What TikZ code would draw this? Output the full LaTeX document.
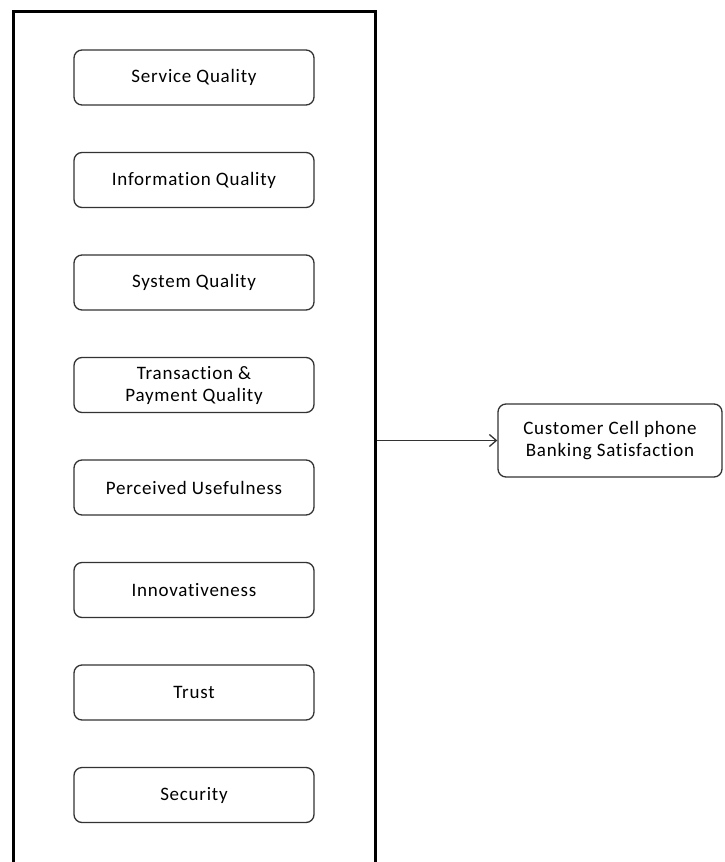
\documentclass[tikz,border=0pt]{standalone}
\usepackage{fontspec}
\setmainfont[Ligatures=NoCommon,LetterSpace=4]{Carlito}
\usetikzlibrary{arrows.meta}

\begin{document}
\begin{tikzpicture}[x=1pt,y=-1pt]
\useasboundingbox (0,0) rectangle (724,862);
\tikzset{factor/.style={draw=black!80,line width=1.3pt,rounded corners=8pt,minimum width=240pt,minimum height=55pt,align=center,font=\fontsize{19}{22}\selectfont,inner sep=0pt}}
\node[draw=black,line width=3pt,minimum width=362pt,minimum height=880pt,inner sep=0pt] (panel) at (194.000,451.000) {};
\node[factor] (sq) at (194.000,77.500) {Service Quality};
\node[factor] (iq) at (194.000,180.000) {Information Quality};
\node[factor] (syq) at (194.000,282.500) {System Quality};
\node[factor] (tpq) at (194.000,385.000) {Transaction \&\\Payment Quality};
\node[factor] (pu) at (194.000,487.500) {Perceived Usefulness};
\node[factor] (inn) at (194.000,590.000) {Innovativeness};
\node[factor] (tr) at (194.000,692.500) {Trust};
\node[factor] (sec) at (194.000,795.000) {Security};
\node[factor,minimum width=224pt,minimum height=73pt] (cbs) at (610.000,440.500) {Customer Cell phone\\Banking Satisfaction};
\draw[line width=1.3pt,black!80,-{Straight Barb[length=7pt,width=12pt]}] (panel.east |- cbs.west) -- (cbs.west);
\end{tikzpicture}
\end{document}
